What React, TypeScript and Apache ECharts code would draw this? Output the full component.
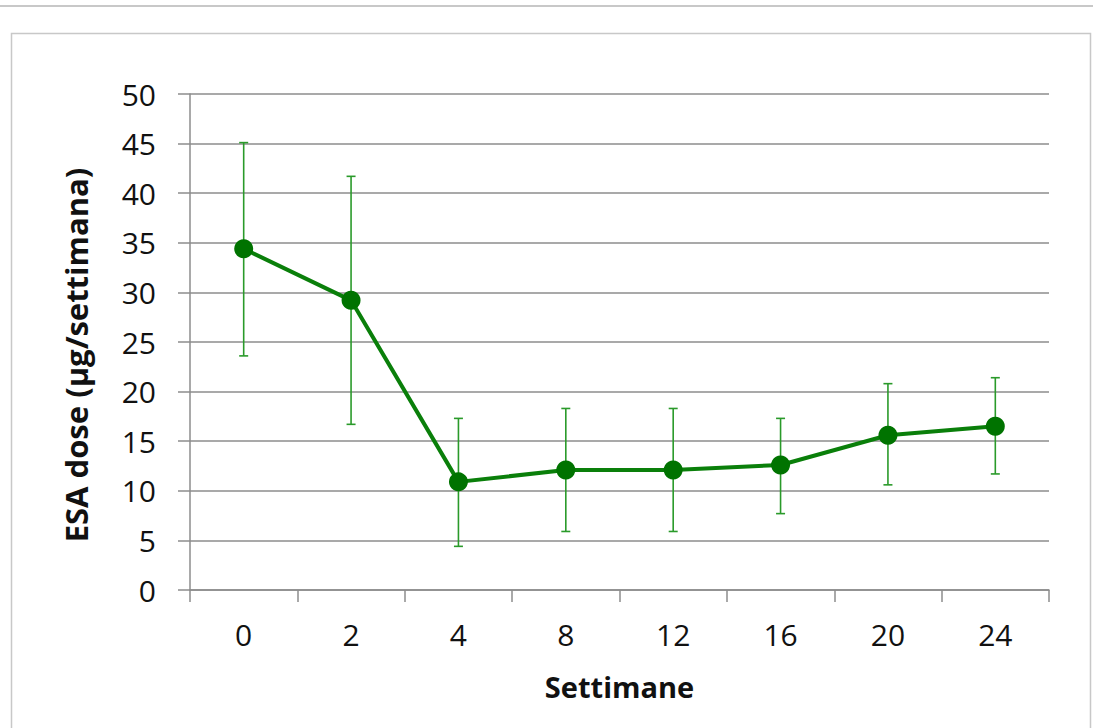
import React, { useEffect, useRef } from "react";
import * as echarts from "echarts";

const categories = ["0", "2", "4", "8", "12", "16", "20", "24"];
const meanDose = [34.4, 29.2, 10.9, 12.1, 12.1, 12.6, 15.6, 16.5];
const lowerDose = [23.6, 16.7, 4.4, 5.9, 5.9, 7.7, 10.6, 11.7];
const upperDose = [45.1, 41.7, 17.3, 18.3, 18.3, 17.3, 20.8, 21.4];
const yTicks = [0, 5, 10, 15, 20, 25, 30, 35, 40, 45, 50];

const FONT = "'Open Sans', 'Liberation Sans', sans-serif";

export default function App() {
  const ref = useRef<HTMLDivElement>(null);
  useEffect(() => {
    if (!ref.current) return;
    const chart = echarts.init(ref.current, null, { renderer: "svg" });
    const errData = categories.map((c, i) => [i, lowerDose[i], upperDose[i]]);
    chart.setOption({
      animation: false,
      backgroundColor: "#ffffff",
      grid: { left: 190, top: 94, width: 859, height: 496, containLabel: false },
      graphic: [
        { type: "line", shape: { x1: 0, y1: 6, x2: 1093, y2: 6 }, style: { stroke: "#c8c8c8", lineWidth: 2 } },
        { type: "rect", shape: { x: 11.5, y: 33.5, width: 1079, height: 720 }, style: { fill: "none", stroke: "#c8c8c8", lineWidth: 1.5 } },
      ],
      xAxis: {
        type: "category",
        data: categories,
        boundaryGap: true,
        name: "Settimane",
        nameLocation: "middle",
        nameGap: 82,
        nameTextStyle: { fontFamily: FONT, fontSize: 29, fontWeight: "bold", color: "#111" },
        axisLine: { lineStyle: { color: "#8c8c8c", width: 1.5 } },
        axisTick: { show: true, length: 12, alignWithLabel: false, lineStyle: { color: "#8c8c8c", width: 1.5 } },
        axisLabel: { fontFamily: FONT, fontSize: 30, color: "#111", margin: 29 },
      },
      yAxis: {
        type: "value",
        min: 0,
        max: 50,
        interval: 5,
        name: "ESA dose (µg/settimana)",
        nameLocation: "middle",
        nameGap: 99,
        nameRotate: 90,
        nameTextStyle: { fontFamily: FONT, fontSize: 31, fontWeight: "bold", color: "#111", padding: [0, 26, 0, 0] },
        axisLine: { show: true, lineStyle: { color: "#8c8c8c", width: 1.5 } },
        axisTick: { show: true, length: 12, lineStyle: { color: "#8c8c8c", width: 1.5 } },
        splitLine: { show: true, lineStyle: { color: "#8c8c8c", width: 1.5 } },
        axisLabel: {
          fontFamily: FONT,
          fontSize: 30,
          color: "#111",
          margin: 34,
          formatter: (v: number) => (yTicks.includes(v) ? String(v) : ""),
        },
      },
      series: [
        {
          type: "custom",
          name: "err",
          data: errData,
          z: 1,
          renderItem: (params: any, api: any) => {
            const x = api.value(0);
            const lo = api.coord([x, api.value(1)]);
            const hi = api.coord([x, api.value(2)]);
            const half = 4.5;
            const style = { stroke: "#2a9a2a", lineWidth: 1.6 };
            return {
              type: "group",
              children: [
                { type: "line", shape: { x1: lo[0], y1: lo[1], x2: hi[0], y2: hi[1] }, style },
                { type: "line", shape: { x1: lo[0] - half, y1: lo[1], x2: lo[0] + half, y2: lo[1] }, style },
                { type: "line", shape: { x1: hi[0] - half, y1: hi[1], x2: hi[0] + half, y2: hi[1] }, style },
              ],
            };
          },
        },
        {
          type: "line",
          name: "ESA dose",
          data: meanDose,
          z: 2,
          symbol: "circle",
          symbolSize: 19,
          lineStyle: { color: "#0a7f0a", width: 4 },
          itemStyle: { color: "#007300" },
        },
      ],
    });
    return () => chart.dispose();
  }, []);
  return (
    <div
      ref={ref}
      style={{ position: "fixed", left: 0, top: 0, width: 1093, height: 728, background: "#fff" }}
    />
  );
}
